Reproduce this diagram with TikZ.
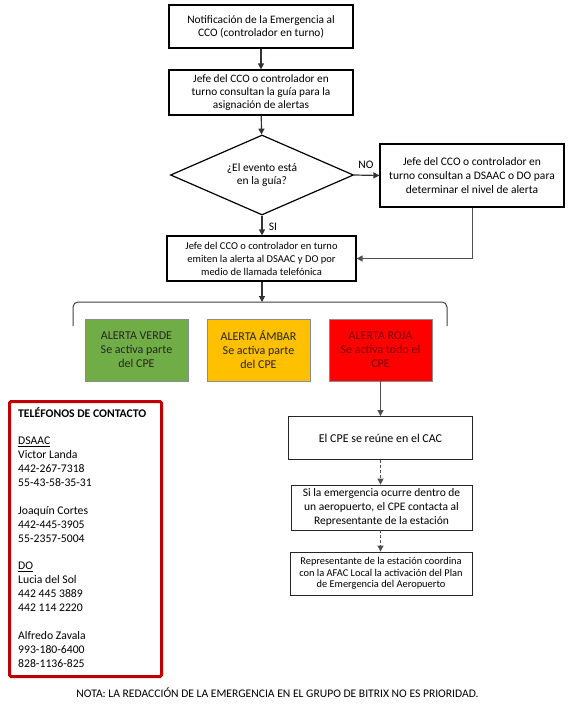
\documentclass[tikz,border=0pt]{standalone}
\usepackage{fontspec}
\setmainfont{Carlito}
\usetikzlibrary{shapes.geometric,arrows.meta}
\definecolor{vgreen}{HTML}{70AD47}
\definecolor{vamber}{HTML}{FFC000}
\definecolor{vred}{HTML}{FF0000}
\definecolor{dred}{HTML}{C00000}
\definecolor{rtext}{HTML}{800000}
\definecolor{lgray}{HTML}{505050}
\tikzset{
  box/.style={draw=black, line width=1.2pt, fill=white, inner sep=0pt, align=center,
     font=\fontsize{11.4}{13}\selectfont},
  alertbox/.style={draw=black!45, line width=0.6pt, inner sep=0pt, align=center,
     font=\fontsize{12}{14}\selectfont, minimum width=103pt, minimum height=62pt},
  conn/.style={line width=1.2pt, draw=black!80, -{Triangle[length=6pt,width=6pt]}},
  thinconn/.style={line width=0.9pt, draw=lgray, -{Triangle[length=6pt,width=6pt]}},
  dashconn/.style={line width=0.9pt, draw=lgray, dash pattern=on 3pt off 2pt, -{Triangle[length=6pt,width=6pt]}},
  lbl/.style={font=\fontsize{11.5}{13}\selectfont, inner sep=0pt}
}
\begin{document}
\begin{tikzpicture}[x=1pt,y=-1pt]
\useasboundingbox[fill=white] (0,0) rectangle (576,714);

\node[box, minimum width=184pt, minimum height=43pt] (n1) at (261,26.5)
  {Notificación de la Emergencia al\\CCO (controlador en turno)};
\node[box, font=\fontsize{11.3}{13}\selectfont, minimum width=184pt, minimum height=45pt] (n2) at (261,92.5)
  {Jefe del CCO o controlador en\\turno consultan la guía para la\\asignación de alertas};
\node[draw=black, line width=1.2pt, diamond, shape aspect=2.29, inner sep=0pt,
  minimum width=183pt, minimum height=80pt, align=center,
  font=\fontsize{11.5}{13}\selectfont] (d) at (262,175)
  {\raisebox{-3pt}{\shortstack{¿El evento está\\[1pt]en la guía?}}};
\node[box, font=\fontsize{11.5}{14}\selectfont, minimum width=184pt, minimum height=63pt] (no) at (472,175.5)
  {Jefe del CCO o controlador en\\turno consultan a DSAAC o DO para\\determinar el nivel de alerta};
\node[box, font=\fontsize{10.5}{13}\selectfont, minimum width=189pt, minimum height=45pt] (em) at (261.5,258.5)
  {Jefe del CCO o controlador en turno\\emiten la alerta al DSAAC y DO por\\medio de llamada telefónica};

\draw[conn] (n1) -- (n2);
\draw[conn] (n2) -- (d);
\draw[conn] (d.east) -- (no.west);
\draw[conn] (d.south) -- (em.north -| d.south);
\draw[thinconn] (no.south) |- (em.east);
\node[lbl] (nolbl) at (366,165) {NO};
\node[lbl] (silbl) at (273,226.5) {SI};

\coordinate (br) at (262,302);
\draw[line width=1pt, draw=black!75, rounded corners=5pt] (73,326) -- (73,302) -- (447,302) -- (447,326);
\draw[conn] (em.south -| br) -- (br);

\node[alertbox, fill=vgreen, text=black!85] (ag) at (136.5,350)
  {ALERTA VERDE\\Se activa parte\\del CPE};
\node[alertbox, fill=vamber, text=black!85] (aa) at (258.5,350)
  {ALERTA ÁMBAR\\Se activa parte\\del CPE};
\node[alertbox, fill=vred, text=rtext] (ar) at (380.5,350)
  {ALERTA ROJA\\Se activa todo el\\CPE};

\node[box, line width=0.8pt, draw=black!85, font=\fontsize{12}{13}\selectfont, minimum width=184pt, minimum height=43pt] (c1) at (380.5,438)
  {El CPE se reúne en el CAC};
\node[box, line width=0.8pt, draw=black!85, font=\fontsize{11.5}{14}\selectfont, minimum width=181pt, minimum height=45pt] (c2) at (381.5,507.5)
  {Si la emergencia ocurre dentro de\\un aeropuerto, el CPE contacta al\\Representante de la estación};
\node[box, line width=0.8pt, draw=black!85, font=\fontsize{10.4}{11.6}\selectfont, minimum width=182pt, minimum height=43pt] (c3) at (381,573.5)
  {Representante de la estación coordina\\con la AFAC Local la activación del Plan\\de Emergencia del Aeropuerto};

\draw[thinconn] (ar.south) -- (c1.north);
\draw[dashconn] (c1.south) -- (c1.south |- c2.north);
\draw[dashconn] (c1.south |- c2.south) -- (c1.south |- c3.north);

\node[draw=dred, line width=3pt, rounded corners=1.5pt, minimum width=152pt, minimum height=275pt, inner sep=0pt] (tel) at (85.5,539) {};
\node[anchor=north west, inner sep=0pt, align=left, font=\fontsize{11.7}{13.9}\selectfont] (teltext) at (18,407)
  {\textbf{TELÉFONOS DE CONTACTO}\\[13.9pt]
   \underline{DSAAC}\\
   Victor Landa\\
   442-267-7318\\
   55-43-58-35-31\\[13.9pt]
   Joaquín Cortes\\
   442-445-3905\\
   55-2357-5004\\[13.9pt]
   \underline{DO}\\
   Lucia del Sol\\
   442 445 3889\\
   442 114 2220\\[13.9pt]
   Alfredo Zavala\\
   993-180-6400\\
   828-1136-825};

\node[font=\fontsize{11.6}{12}\selectfont, inner sep=0pt] (nota) at (277.5,693)
  {NOTA: LA REDACCIÓN DE LA EMERGENCIA EN EL GRUPO DE BITRIX NO ES PRIORIDAD.};
\end{tikzpicture}
\end{document}
